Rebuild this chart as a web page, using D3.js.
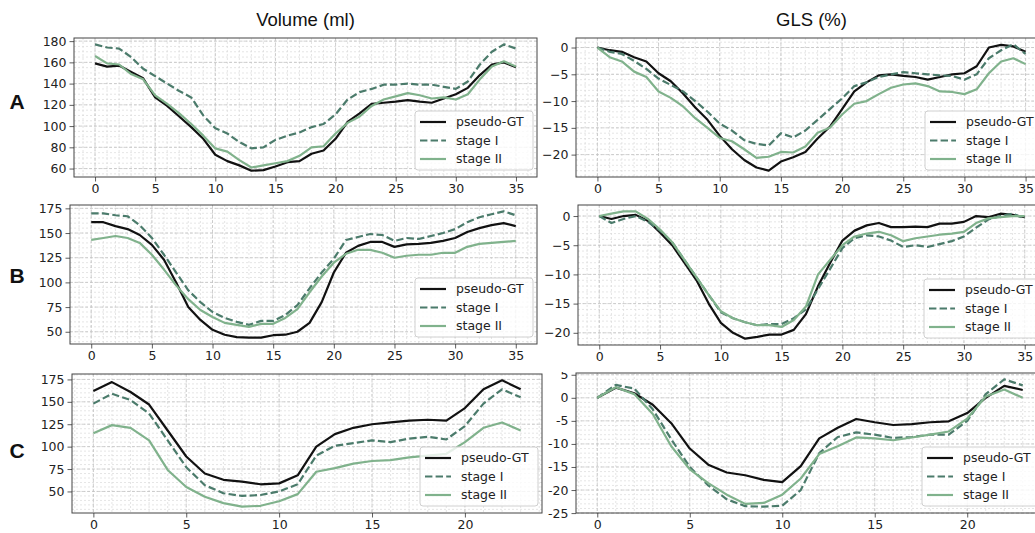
<!DOCTYPE html>
<html>
<head>
<meta charset="utf-8">
<script src="https://cdn.jsdelivr.net/npm/d3@7"></script>
<style>
  body { margin: 0; background: #fff; }
</style>
</head>
<body>
<svg></svg>
<script>
// ---- data ----
const seriesNames = ['pseudo-GT', 'stage I', 'stage II'];
const colTitles = ['Volume (ml)', 'GLS (%)'];
const rowLabels = ['A', 'B', 'C'];

// row A, volume (36 frames)
const volA_gt = [159,156,157,151,145,127,119,109,99,88,73,67,63,58,58.5,62,66,67,74,77,88,104,112,121,122,123,124.5,123,122,126,130,136,148,158,160,155.5];
const volA_s1 = [177,174,173,165,154,147,140,133,127,110,98,93,85,79,80,87,91,94,99,102,111,125,132,135,139,139,140,139,139,137,135,142,158,170,177,173];
const volA_s2 = [166,159,158,149,144,129,121,112,102,91,79,76,68,61,63,65,67,72,80,81,93,103,109,119,125,128,131,129,126,127,125,130,144,156,161,156];
// row A, GLS
const glsA_gt = [0,-0.5,-0.8,-1.8,-2.6,-4.8,-6.3,-8.6,-11.2,-13.5,-16.5,-19,-21,-22.4,-23,-21.3,-20.5,-19.5,-17,-14.8,-11.5,-8.2,-6.5,-5.2,-5,-5.3,-5.5,-6,-5.5,-5,-4.8,-3.5,0,0.5,0.2,-0.8];
const glsA_s1 = [0,-0.8,-1.2,-2.5,-4,-5.8,-7,-8.2,-10,-12,-14.2,-15.5,-17.3,-18,-18.3,-16,-16.8,-15.5,-13.5,-11.5,-9.5,-7.2,-6.5,-5.5,-5,-4.6,-4.8,-5,-5.2,-5.3,-6,-5,-2,-0.5,0.6,-1.2];
const glsA_s2 = [0,-1.8,-2.6,-4.5,-5.5,-8.2,-9.4,-11,-13.2,-15,-16.9,-17.5,-19,-20.6,-20.4,-19.5,-19.6,-18.5,-15.9,-15,-12.5,-10.5,-10,-8.7,-7.5,-6.9,-6.7,-7.2,-8.2,-8.3,-8.7,-7.8,-4.8,-2.6,-2,-3.1];

// row B, volume (36 frames)
const volB_gt = [161,161,157,154,148,138,123,100,75,62,52,47,44.5,44,44,46.5,47,50,59,80,110,130,137,141,141,136,138.5,139,140,142,145,151,155,158,160,157];
const volB_s1 = [170,170,168,167,158,145,128,110,92,80,70,64,60,57,61,61,67,77,94,110,124,143,146,149,148,142,145,144,147,150,154,161,166,169,172,168];
const volB_s2 = [143,145,147,145,140,128,113,97,83,72,65,59,57,55,58,58,64,73,90,106,120,129,133,133,130,125,127,128,128,130,130,136,139,140,141,142];
// row B, GLS
const glsB_gt = [0,-0.5,0,0.2,-0.8,-2.8,-5,-8,-11,-15,-18.3,-20,-21,-20.7,-20.3,-20.3,-19.5,-16.8,-12,-8,-4.2,-2.5,-1.6,-1.2,-1.9,-1.9,-1.8,-1.9,-1.3,-1.3,-1,0,-0.2,0.4,0.2,-0.2];
const glsB_s1 = [0,-1.2,-0.5,0,-1,-2.5,-4.5,-7.5,-10.5,-13.5,-16.5,-17.5,-18.2,-18.7,-18.5,-18.5,-17.5,-16,-12.5,-9,-5.5,-3.8,-3.3,-3.5,-4.2,-5.3,-5,-5.3,-4.8,-4.3,-3.5,-2,-0.6,0,0.4,-0.4];
const glsB_s2 = [0,0.4,0.8,0.8,-0.5,-2.3,-4.5,-7.5,-10.5,-13.5,-16.3,-17.5,-18.2,-18.7,-18.7,-19,-17.8,-15.5,-10,-7.5,-5,-3.5,-3,-2.7,-3.3,-4.3,-3.8,-3.5,-3.2,-3,-2.7,-1.2,-0.4,-0.2,0,0];

// row C, volume (24 frames)
const volC_gt = [162,172,161,147,118,89,70,63,61,58,59,68,100,114,121,125,127,129,130,129,143,164,174,164];
const volC_s1 = [148,159,152,137,107,77,57,48,45,46,50,58,90,101,104,107,105,109,111,108,123,148,164,155];
const volC_s2 = [115,124,121,107,74,55,44,37,33,34,39,47,72,76,81,84,85,88,90,92,105,121,127,118];
// row C, GLS
const glsC_gt = [0,2.2,1,-1.5,-5.5,-11,-14.5,-16.2,-16.8,-17.8,-18.3,-14.8,-8.8,-6.5,-4.6,-5.3,-5.9,-5.7,-5.3,-5.1,-3.3,0,2.6,1.7];
const glsC_s1 = [0,2.8,2,-2.5,-9,-15,-19,-22,-23.5,-23.6,-23.4,-20,-12,-8.5,-7.5,-8,-8.7,-8.5,-8,-8,-5,0.8,4,2.7];
const glsC_s2 = [0,2.3,0.8,-3.5,-10.5,-15.5,-18.5,-21,-23,-22.8,-21,-17.5,-12.2,-10.5,-8.6,-8.8,-9.2,-8.6,-8,-7.3,-4.5,0.3,1.8,0];

// tick labels
const xTicks36 = [0,5,10,15,20,25,30,35];
const xTicks24 = [0,5,10,15,20];
const volTicksA = [60,80,100,120,140,160,180];
const volTicksBC = [50,75,100,125,150,175];
const glsTicksAB = [-20,-15,-10,-5,0];
const glsTicksC = [-25,-20,-15,-10,-5,0,5];

// ---- layout ----
const WIDTH = 1035;
const HEIGHT = 533;
const COLORS = ['#111111', '#4b7b6b', '#80b28c'];
const DASHES = [null, '7.4,3.2', null];
const TICK_FONT = '"DejaVu Sans", sans-serif';
const TICK_SIZE = 12.5;

const panels = [
  {row: 0, col: 0, data: [volA_gt, volA_s1, volA_s2], xTicks: xTicks36, yTicks: volTicksA, yMinor: 5, box: [74, 537, 38, 177]},
  {row: 0, col: 1, data: [glsA_gt, glsA_s1, glsA_s2], xTicks: xTicks36, yTicks: glsTicksAB, yMinor: 1, box: [576, 1047, 38, 177]},
  {row: 1, col: 0, data: [volB_gt, volB_s1, volB_s2], xTicks: xTicks36, yTicks: volTicksBC, yMinor: 5, box: [70, 537, 205, 344]},
  {row: 1, col: 1, data: [glsB_gt, glsB_s1, glsB_s2], xTicks: xTicks36, yTicks: glsTicksAB, yMinor: 1, box: [578, 1046, 205, 345]},
  {row: 2, col: 0, data: [volC_gt, volC_s1, volC_s2], xTicks: xTicks24, yTicks: volTicksBC, yMinor: 5, box: [72, 542, 374, 513]},
  {row: 2, col: 1, data: [glsC_gt, glsC_s1, glsC_s2], xTicks: xTicks24, yTicks: glsTicksC, yMinor: 1, box: [576, 1044, 373, 513], hyphen: true, clipTop: 372}
];

const svg = d3.select('svg')
  .attr('width', WIDTH)
  .attr('height', HEIGHT)
  .attr('viewBox', `0 0 ${WIDTH} ${HEIGHT}`);

svg.append('rect').attr('width', WIDTH).attr('height', HEIGHT).attr('fill', '#fff');

// column titles
svg.selectAll('text.col-title')
  .data(colTitles)
  .enter()
  .append('text')
  .attr('class', 'col-title')
  .attr('x', (d, i) => (panels[i].box[0] + panels[i].box[1]) / 2)
  .attr('y', 26)
  .attr('text-anchor', 'middle')
  .attr('font-family', '"Liberation Sans", Arial, sans-serif')
  .attr('font-size', 18.5)
  .attr('fill', '#111')
  .text(d => d);

// row letters
svg.selectAll('text.row-label')
  .data(rowLabels)
  .enter()
  .append('text')
  .attr('class', 'row-label')
  .attr('x', 17)
  .attr('y', (d, i) => [102, 276, 451][i])
  .attr('dy', '0.35em')
  .attr('text-anchor', 'middle')
  .attr('font-family', '"Liberation Sans", Arial, sans-serif')
  .attr('font-weight', 'bold')
  .attr('font-size', 21)
  .attr('fill', '#111')
  .text(d => d);

function padded(lo, hi) {
  const m = (hi - lo) * 0.05;
  return [lo - m, hi + m];
}

function drawPanel(p, idx) {
  const [x0, x1, y0, y1] = p.box;
  const n = p.data[0].length;
  const g = svg.append('g');

  const xScale = d3.scaleLinear().domain(padded(0, n - 1)).range([x0, x1]);
  const ext = d3.extent(p.data.flat());
  const yScale = d3.scaleLinear().domain(padded(ext[0], ext[1])).range([y1, y0]);

  const [xd0, xd1] = xScale.domain();
  const [yd0, yd1] = yScale.domain();
  const xMinor = d3.range(Math.ceil(xd0), xd1 + 1e-9, 1);
  const yMinor = d3.range(Math.ceil(yd0 / p.yMinor) * p.yMinor, yd1 + 1e-9, p.yMinor);
  const yMajor = p.yTicks.filter(v => v >= yd0 - 0.1 && v <= yd1 + 0.1);

  // grid: minor then major
  const grid = g.append('g');
  grid.selectAll('line.xm').data(xMinor).enter().append('line')
    .attr('x1', d => xScale(d)).attr('x2', d => xScale(d))
    .attr('y1', y0).attr('y2', y1)
    .attr('stroke', '#dadada').attr('stroke-width', 0.7).attr('stroke-dasharray', '2,2');
  grid.selectAll('line.ym').data(yMinor).enter().append('line')
    .attr('x1', x0).attr('x2', x1)
    .attr('y1', d => yScale(d)).attr('y2', d => yScale(d))
    .attr('stroke', '#dadada').attr('stroke-width', 0.7).attr('stroke-dasharray', '2,2');
  grid.selectAll('line.xM').data(p.xTicks).enter().append('line')
    .attr('x1', d => xScale(d)).attr('x2', d => xScale(d))
    .attr('y1', y0).attr('y2', y1)
    .attr('stroke', '#c4c4c4').attr('stroke-width', 0.8).attr('stroke-dasharray', '3,2');
  grid.selectAll('line.yM').data(yMajor).enter().append('line')
    .attr('x1', x0).attr('x2', x1)
    .attr('y1', d => yScale(d)).attr('y2', d => yScale(d))
    .attr('stroke', '#c4c4c4').attr('stroke-width', 0.8).attr('stroke-dasharray', '3,2');

  // series
  const line = d3.line()
    .x((d, i) => xScale(i))
    .y(d => yScale(d));

  p.data.forEach((s, k) => {
    g.append('path')
      .datum(s)
      .attr('d', line)
      .attr('fill', 'none')
      .attr('stroke', COLORS[k])
      .attr('stroke-width', 2.2)
      .attr('stroke-linejoin', 'round')
      .attr('stroke-dasharray', DASHES[k]);
  });

  // frame
  g.append('rect')
    .attr('x', x0).attr('y', y0)
    .attr('width', x1 - x0).attr('height', y1 - y0)
    .attr('fill', 'none')
    .attr('stroke', '#444')
    .attr('stroke-width', 1);

  // axes
  const xAxis = g.append('g').attr('transform', `translate(0, ${y1})`);
  xAxis.call(d3.axisBottom(xScale).tickValues(xMinor).tickSize(2.5).tickFormat(''));
  xAxis.call(d3.axisBottom(xScale).tickValues(p.xTicks).tickSize(4.5).tickPadding(3));

  const fmt = p.hyphen ? (d => String(d)) : (d => d < 0 ? '\u2212' + Math.abs(d) : String(d));
  const yAxis = g.append('g').attr('transform', `translate(${x0}, 0)`);
  yAxis.call(d3.axisLeft(yScale).tickValues(yMinor).tickSize(2.5).tickFormat(''));
  yAxis.call(d3.axisLeft(yScale).tickValues(yMajor).tickSize(4.5).tickPadding(3).tickFormat(fmt));

  if (p.clipTop !== undefined) {
    const cid = 'clip' + idx;
    // clip box is in the axis group's own coordinates (shifted by x0)
    svg.append('clipPath').attr('id', cid)
      .append('rect').attr('x', -x0).attr('y', p.clipTop).attr('width', WIDTH).attr('height', HEIGHT);
    yAxis.attr('clip-path', `url(#${cid})`);
  }

  [xAxis, yAxis].forEach(a => {
    a.selectAll('.domain').remove();
    a.selectAll('line').attr('stroke', '#333').attr('stroke-width', 0.8);
    a.selectAll('text')
      .attr('font-family', TICK_FONT)
      .attr('font-size', TICK_SIZE)
      .attr('fill', '#222');
  });

  // legend
  const LW = 118, LH = 59;
  const leg = g.append('g')
    .attr('transform', `translate(${x1 - 4 - LW}, ${y1 - 7 - LH})`);
  leg.append('rect')
    .attr('width', LW).attr('height', LH)
    .attr('rx', 3).attr('ry', 3)
    .attr('fill', '#fff').attr('fill-opacity', 0.8)
    .attr('stroke', '#d0d0d0').attr('stroke-width', 1);
  const rows = leg.selectAll('g.item')
    .data(seriesNames)
    .enter()
    .append('g')
    .attr('transform', (d, i) => `translate(0, ${11 + i * 18.5})`);
  rows.append('line')
    .attr('x1', 5).attr('x2', 31)
    .attr('stroke', (d, i) => COLORS[i])
    .attr('stroke-width', 2.2)
    .attr('stroke-dasharray', (d, i) => DASHES[i]);
  rows.append('text')
    .attr('x', 41)
    .attr('dy', '0.35em')
    .attr('font-family', TICK_FONT)
    .attr('font-size', TICK_SIZE)
    .attr('fill', '#222')
    .text(d => d);
}

panels.forEach(drawPanel);
</script>
</body>
</html>
